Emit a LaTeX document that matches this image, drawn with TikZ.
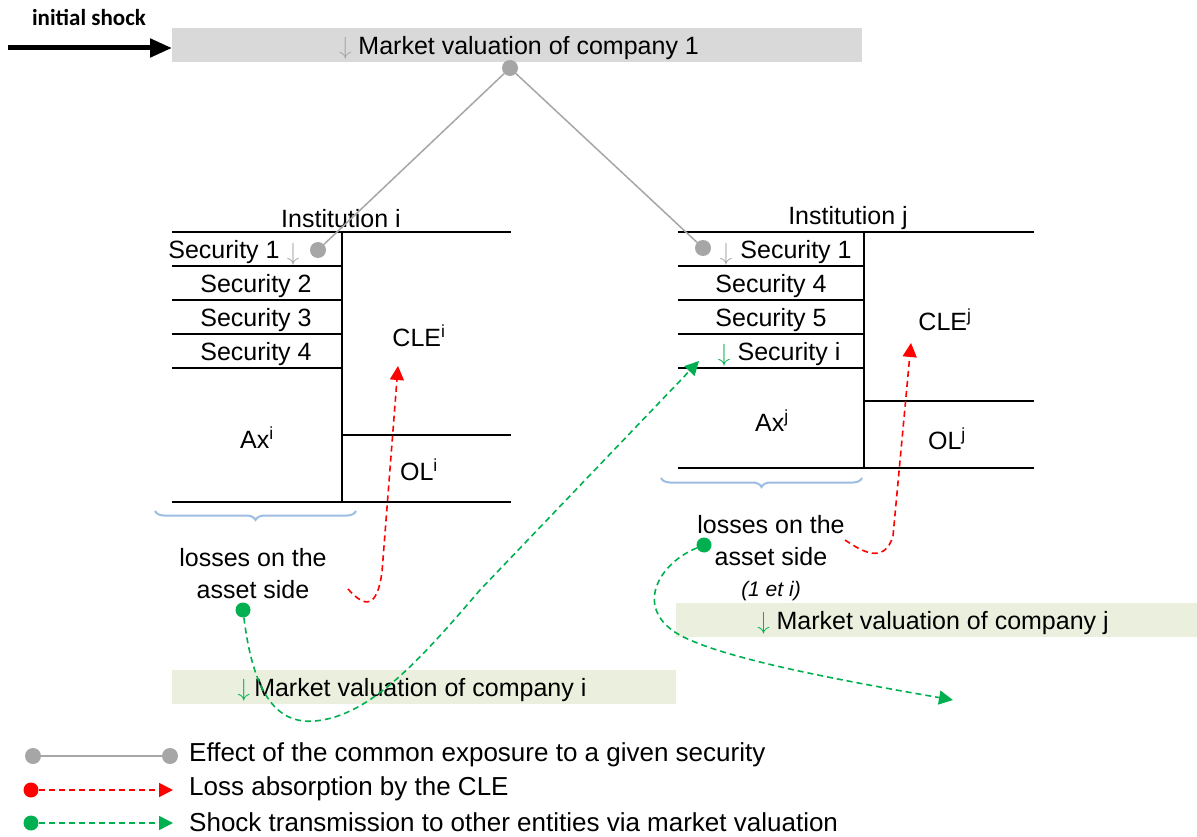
\documentclass[tikz,border=0pt]{standalone}
\usepackage{fontspec}
\setmainfont{Liberation Sans}
\newfontfamily\calib{Carlito}
\usetikzlibrary{arrows.meta,decorations.pathreplacing}
\definecolor{boxgray}{RGB}{217,217,217}
\definecolor{boxgreen}{RGB}{235,240,222}
\definecolor{lgray}{RGB}{166,166,166}
\definecolor{dgreen}{RGB}{0,176,80}
\definecolor{bracecol}{RGB}{157,188,226}
\newcommand{\dnarrow}[1]{\textcolor{#1}{\fontsize{26}{28}\selectfont$\downarrow$}}
\begin{document}
\begin{tikzpicture}[x=1pt,y=-1pt,
  txt/.style={font=\fontsize{25}{32}\selectfont, inner sep=0pt, align=center, yshift=-2.5pt},
  legtxt/.style={font=\fontsize{26}{30}\selectfont, inner sep=0pt, anchor=west},
  ledger/.style={line width=2.6pt, black},
  gdot/.style={circle, fill=lgray, minimum size=16pt, inner sep=0pt},
  rdot/.style={circle, fill=red, minimum size=15pt, inner sep=0pt},
  grdot/.style={circle, fill=dgreen, minimum size=15pt, inner sep=0pt},
  grayline/.style={lgray, line width=1.5pt},
  reddash/.style={red, line width=1.6pt, dash pattern=on 6pt off 4pt, -{Triangle[length=14pt,width=14pt]}},
  greendash/.style={dgreen, line width=1.6pt, dash pattern=on 6pt off 4pt, -{Triangle[length=14pt,width=14pt]}},
  mvbox/.style={inner sep=0pt, minimum height=34pt},
  bracestyle/.style={bracecol, line width=2pt, decorate, decoration={brace, amplitude=9pt}}
]
\useasboundingbox (0,0) rectangle (1197,837);

% initial shock
\node[font=\calib\bfseries\fontsize{23}{26}\selectfont, inner sep=0pt] (shocktxt) at (89,18) {initial shock};
\node[mvbox, fill=boxgray, minimum width=690pt] (mv1) at (517,45) {};
\node[txt] (mv1t) at (519,46) {\dnarrow{lgray} Market valuation of company 1};
\coordinate (shockstart) at (8,48);
\coordinate (shockend) at (172,48);
\draw[line width=5pt, -{Triangle[length=22pt,width=18pt]}] (shockstart) -- (shockend);

% ---------- Institution i ----------
\node[txt] (insti) at (341,216) {Institution i};
\draw[ledger] (172,232) -- (511,232);
\draw[ledger] (342,232) -- (342,502);
\foreach \yy in {266,300,334,368} \draw[ledger] (172,\yy) -- (342,\yy);
\draw[ledger] (342,435) -- (511,435);
\draw[ledger] (172,502) -- (511,502);
\node[txt] (sec1i) at (224,250) {Security 1};
\node[txt] (arr1i) at (293,252) {\dnarrow{lgray}};
\node[txt] (sec2i) at (256,284) {Security 2};
\node[txt] (sec3i) at (256,318) {Security 3};
\node[txt] (sec4i) at (256,352) {Security 4};
\node[txt] (clei) at (419,333) {CLE\textsuperscript{i}};
\node[txt] (axi) at (257,435) {Ax\textsuperscript{i}};
\node[txt] (oli) at (419,467) {OL\textsuperscript{i}};
\draw[bracestyle] (356,511) -- (155,511);
\node[txt] (lossi) at (253,571) {losses on the\\asset side};

% ---------- Institution j ----------
\node[txt] (instj) at (848,216) {Institution j};
\draw[ledger] (678,232) -- (1034,232);
\draw[ledger] (864,232) -- (864,468);
\foreach \yy in {266,300,334,368} \draw[ledger] (678,\yy) -- (864,\yy);
\draw[ledger] (864,401) -- (1034,401);
\draw[ledger] (678,468) -- (1034,468);
\node[txt] (arr1j) at (726,252) {\dnarrow{lgray}};
\node[txt] (sec1j) at (796,250) {Security 1};
\node[txt] (sec4j) at (771,284) {Security 4};
\node[txt] (sec5j) at (771,318) {Security 5};
\node[txt] (arrij) at (724,353) {\dnarrow{dgreen}};
\node[txt] (secij) at (789,352) {Security i};
\node[txt] (clej) at (945,317) {CLE\textsuperscript{j}};
\node[txt] (axj) at (772,418) {Ax\textsuperscript{j}};
\node[txt] (olj) at (947,436) {OL\textsuperscript{j}};
\draw[bracestyle] (862,478) -- (661,478);
\node[txt] (lossj) at (771,538) {losses on the\\asset side};
\node[txt, font=\itshape\fontsize{21}{24}\selectfont] (lossjb) at (771,589) {(1 et i)};

% ---------- market valuation boxes ----------
\node[mvbox, fill=boxgreen, minimum width=504pt] (mvi) at (424,687) {};
\node[txt] (mvit) at (412,688) {\dnarrow{dgreen}\,Market valuation of company i};
\node[mvbox, fill=boxgreen, minimum width=521pt] (mvj) at (936.5,620) {};
\node[txt] (mvjt) at (933,621) {\dnarrow{dgreen} Market valuation of company j};

% ---------- common exposure (gray) ----------
\node[gdot] (gd0) at (510,68) {};
\node[gdot] (gdi) at (318,250) {};
\node[gdot] (gdj) at (703,248) {};
\draw[grayline] (gd0) -- (gdi);
\draw[grayline] (gd0) -- (gdj);

% ---------- loss absorption (red) ----------
\coordinate (ri0) at (348,589);
\coordinate (ri1) at (398,366);
\draw[reddash] (ri0) .. controls (360,602) and (376,616) .. (382,572) -- (ri1);
\coordinate (rj0) at (845,540);
\coordinate (rj1) at (911,343);
\draw[reddash] (rj0) .. controls (860,550) and (884,566) .. (893,536) -- (rj1);

% ---------- shock transmission (green) ----------
\node[grdot] (gri) at (243,610) {};
\node[grdot] (grj) at (704,545) {};
\coordinate (gti) at (699,361);
\coordinate (gtj) at (953,700);
\draw[greendash] (gri) .. controls (254,700) and (280,724) .. (315,721) .. controls (370,716) and (420,660) .. (480,590) -- (gti);
\draw[greendash] (grj) .. controls (655,565) and (630,615) .. (690,640) .. controls (740,662) and (850,682) .. (gtj);

% ---------- legend ----------
\node[gdot] (lg1) at (33,756) {};
\node[gdot] (lg2) at (170,756) {};
\draw[grayline] (lg1) -- (lg2);
\node[legtxt] (lt1) at (189,755) {Effect of the common exposure to a given security};
\node[rdot] (lr1) at (31,790) {};
\coordinate (lr2) at (173,790);
\draw[reddash] (lr1) -- (lr2);
\node[legtxt] (lt2) at (189,789) {Loss absorption by the CLE};
\node[grdot] (lgr1) at (31,823) {};
\coordinate (lgr2) at (173,823);
\draw[greendash] (lgr1) -- (lgr2);
\node[legtxt] (lt3) at (189,822) {Shock transmission to other entities via market valuation};
\end{tikzpicture}
\end{document}
